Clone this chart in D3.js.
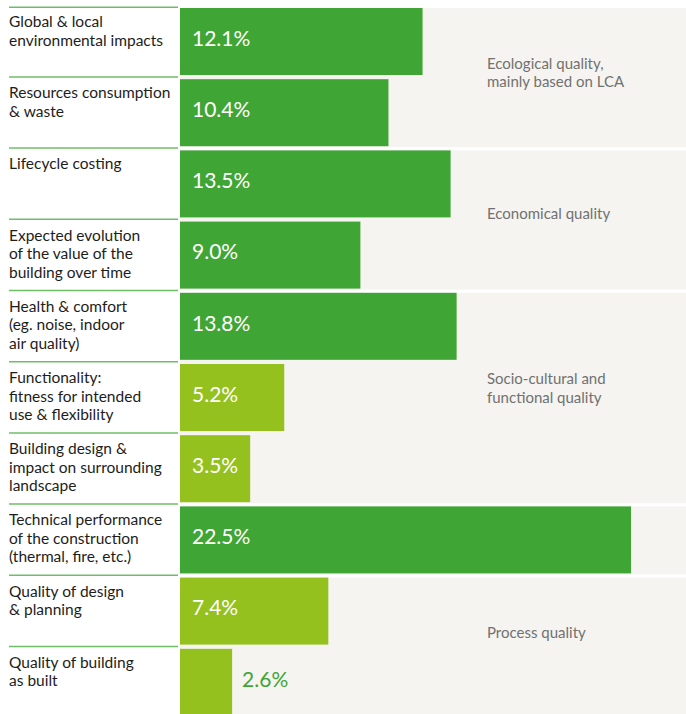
<!DOCTYPE html>
<html>
<head>
<meta charset="utf-8">
<script src="https://cdn.jsdelivr.net/npm/d3@7"></script>
<style>
  html, body { margin: 0; padding: 0; background: #ffffff; }
  svg { display: block; }
  text { font-family: Lato, "Open Sans", sans-serif; }
</style>
</head>
<body>
<svg id="chart" width="686" height="714"></svg>
<script>
// ---- data ----
const categories = [
  ["Global & local", "environmental impacts"],
  ["Resources consumption", "& waste"],
  ["Lifecycle costing"],
  ["Expected evolution", "of the value of the", "building over time"],
  ["Health & comfort", "(eg. noise, indoor", "air quality)"],
  ["Functionality:", "fitness for intended", "use & flexibility"],
  ["Building design &", "impact on surrounding", "landscape"],
  ["Technical performance", "of the construction", "(thermal, fire, etc.)"],
  ["Quality of design", "& planning"],
  ["Quality of building", "as built"]
];
const values = [12.1, 10.4, 13.5, 9.0, 13.8, 5.2, 3.5, 22.5, 7.4, 2.6];
const shade = ["dark", "dark", "dark", "dark", "dark", "light", "light", "dark", "light", "light"];
const valueLabels = ["12.1%", "10.4%", "13.5%", "9.0%", "13.8%", "5.2%", "3.5%", "22.5%", "7.4%", "2.6%"];
const groupLabels = [
  ["Ecological quality,", "mainly based on LCA"],
  ["Economical quality"],
  ["Socio-cultural and", "functional quality"],
  [],
  ["Process quality"]
];
const groupFirstRow = [0, 2, 4, 7, 8];
const groupLastRow  = [1, 3, 6, 7, 9];

// ---- layout ----
const W = 686, H = 714;
const barX0 = 180;
const colors = { dark: "#3fa535", light: "#95c11f" };
const groupLabelNudge = [-4, -5, -9, 0, -14];

const svg = d3.select("#chart");

const y = d3.scaleBand()
  .domain(d3.range(categories.length))
  .range([8, 715.8])
  .paddingInner(0.059)
  .paddingOuter(0);

const x = d3.scaleLinear()
  .domain([0, 22.5])
  .range([barX0, 631]);

// gray group backgrounds
const groups = groupLabels.map((g, i) => ({ lines: g, first: groupFirstRow[i], last: groupLastRow[i], nudge: groupLabelNudge[i] }));

svg.append("g").selectAll("rect")
  .data(groups)
  .join("rect")
  .attr("x", barX0)
  .attr("y", d => y(d.first))
  .attr("width", W - barX0)
  .attr("height", d => y(d.last) + y.bandwidth() - y(d.first) + 1)
  .attr("fill", "#f5f4f0");

// group labels
const lineH = 18.5;
svg.append("g").selectAll("text")
  .data(groups)
  .join("text")
  .attr("x", 487)
  .attr("fill", "#717170")
  .attr("font-size", "15px")
  .each(function(d) {
    const center = (y(d.first) + y(d.last) + y.bandwidth()) / 2 + d.nudge;
    const firstBase = center + 5 - (d.lines.length - 1) * lineH / 2;
    d3.select(this).selectAll("tspan")
      .data(d.lines)
      .join("tspan")
      .attr("x", 487)
      .attr("y", (t, j) => firstBase + j * lineH)
      .text(t => t);
  });

// separator lines on the label column
svg.append("g").selectAll("line")
  .data(d3.range(categories.length))
  .join("line")
  .attr("x1", 9)
  .attr("x2", 178)
  .attr("y1", i => Math.max(7.3, y(i) - 2.3))
  .attr("y2", i => Math.max(7.3, y(i) - 2.3))
  .attr("stroke", "#6fbe66")
  .attr("stroke-width", 1.5);

// bars
svg.append("g").selectAll("rect")
  .data(values)
  .join("rect")
  .attr("x", x(0))
  .attr("y", (v, i) => y(i))
  .attr("width", v => x(v) - x(0))
  .attr("height", y.bandwidth())
  .attr("fill", (v, i) => colors[shade[i]]);

// category labels
svg.append("g").selectAll("text")
  .data(categories)
  .join("text")
  .attr("fill", "#1d1d1b")
  .attr("font-size", "15.5px")
  .each(function(lines, i) {
    d3.select(this).selectAll("tspan")
      .data(lines)
      .join("tspan")
      .attr("x", 9)
      .attr("y", (t, j) => y(i) + 19 + j * lineH)
      .text(t => t);
  });

// value labels
const minInside = 62;
svg.append("g").selectAll("text")
  .data(values)
  .join("text")
  .attr("font-size", "21px")
  .attr("y", (v, i) => y(i) + 37.7)
  .attr("x", v => (x(v) - x(0) > minInside) ? x(0) + 12 : x(v) + 10)
  .attr("fill", (v, i) => (x(v) - x(0) > minInside) ? "#ffffff" : colors.dark)
  .text((v, i) => valueLabels[i]);
</script>
</body>
</html>
